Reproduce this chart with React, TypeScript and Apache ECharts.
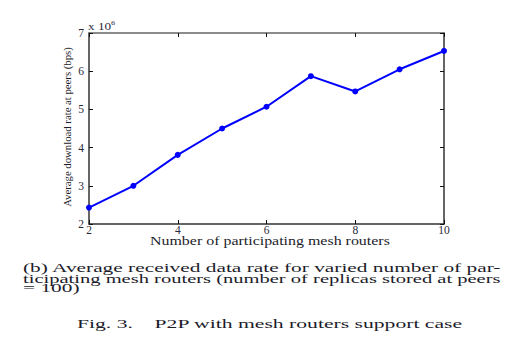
import React, { useEffect, useRef } from "react";
import * as echarts from "echarts";

const routers = [2, 3, 4, 5, 6, 7, 8, 9, 10];
const rates = [2.43, 3.0, 3.81, 4.5, 5.07, 5.87, 5.47, 6.05, 6.53];
const xTicks = { min: 2, max: 10, interval: 2 };
const yTicks = { min: 2, max: 7, interval: 1 };
const yTitle = "Average download rate at peers (bps)";
const xTitle = "Number of participating mesh routers";
const captionLines = [
  "(b) Average received data rate for varied number of par-",
  "ticipating mesh routers (number of replicas stored at peers",
  "= 100)",
];
const figCaption = "Fig. 3.    P2P with mesh routers support case";

const SERIF = "Liberation Serif";
const INK = "#1c1c2a";

function measure(text: string, size: number): number {
  const c = document.createElement("canvas");
  const ctx = c.getContext("2d");
  if (!ctx) return text.length * size * 0.45;
  ctx.font = `${size}px "Liberation Serif"`;
  return ctx.measureText(text).width;
}

function fitText(text: string, x: number, y: number, size: number, sx: number, extra: any = {}) {
  return {
    type: "text",
    x,
    y,
    scaleX: sx,
    style: {
      text,
      fontFamily: SERIF,
      fontSize: size,
      fill: INK,
      verticalAlign: "middle",
      ...extra,
    },
  };
}

export default function App() {
  const ref = useRef<HTMLDivElement>(null);
  useEffect(() => {
    if (!ref.current) return;
    const chart = echarts.init(ref.current, undefined, { renderer: "svg" });
    const axisLine = { show: true, lineStyle: { color: "#333", width: 1.5 } };
    const tick = { show: true, inside: true, length: 4, lineStyle: { color: "#111" } };
    const label = { fontFamily: SERIF, fontSize: 11.5, color: "#2a2a3a" };
    const capR = 479 / measure(captionLines[0], 13);
    const graphics: any[] = [
      {
        type: "text",
        x: 88,
        y: 26,
        scaleX: 1.2,
        style: {
          text: "x 10{s|6}",
          fontFamily: SERIF,
          fontSize: 11,
          fill: "#2a2a3a",
          verticalAlign: "middle",
          rich: { s: { fontSize: 7, fontFamily: SERIF, padding: [0, 0, 7, 0] } },
        },
      },
      fitText(xTitle, 150, 241.5, 11.5, 240 / measure(xTitle, 11.5)),
      {
        ...fitText(yTitle, 68, 127, 10, 160 / measure(yTitle, 10), { align: "center" }),
        rotation: Math.PI / 2,
      },
      fitText(captionLines[0], 23, 268, 13, capR),
      fitText(captionLines[1], 23, 278.5, 13, 478 / measure(captionLines[1], 13)),
      fitText(captionLines[2], 23, 288, 13, capR),
      fitText(figCaption, 77, 324.5, 11.5, 386 / measure(figCaption, 11.5)),
    ];
    chart.setOption({
      animation: false,
      backgroundColor: "#ffffff",
      grid: { left: 89, right: 71, top: 33, bottom: 127, containLabel: false },
      xAxis: [
        {
          type: "value",
          min: xTicks.min,
          max: xTicks.max,
          interval: xTicks.interval,
          position: "bottom",
          axisLine,
          axisTick: tick,
          splitLine: { show: false },
          axisLabel: { ...label, margin: 0 },
        },
        {
          type: "value",
          min: xTicks.min,
          max: xTicks.max,
          interval: xTicks.interval,
          position: "top",
          axisLine: { show: true, lineStyle: { color: "#666", width: 1.5 } },
          axisTick: tick,
          splitLine: { show: false },
          axisLabel: { show: false },
        },
      ],
      yAxis: [
        {
          type: "value",
          min: yTicks.min,
          max: yTicks.max,
          interval: yTicks.interval,
          position: "left",
          axisLine,
          axisTick: tick,
          splitLine: { show: false },
          axisLabel: { ...label, margin: 5 },
        },
        {
          type: "value",
          min: yTicks.min,
          max: yTicks.max,
          interval: yTicks.interval,
          position: "right",
          axisLine,
          axisTick: tick,
          splitLine: { show: false },
          axisLabel: { show: false },
        },
      ],
      series: [
        {
          type: "line",
          data: routers.map((x, i) => [x, rates[i]]),
          symbol: "circle",
          symbolSize: 6,
          lineStyle: { color: "#0000ff", width: 2 },
          itemStyle: { color: "#0000ff" },
        },
      ],
      graphic: graphics,
    });
    return () => chart.dispose();
  }, []);
  return (
    <div
      ref={ref}
      style={{ position: "fixed", left: 0, top: 0, width: 515, height: 351, background: "#fff" }}
    />
  );
}
